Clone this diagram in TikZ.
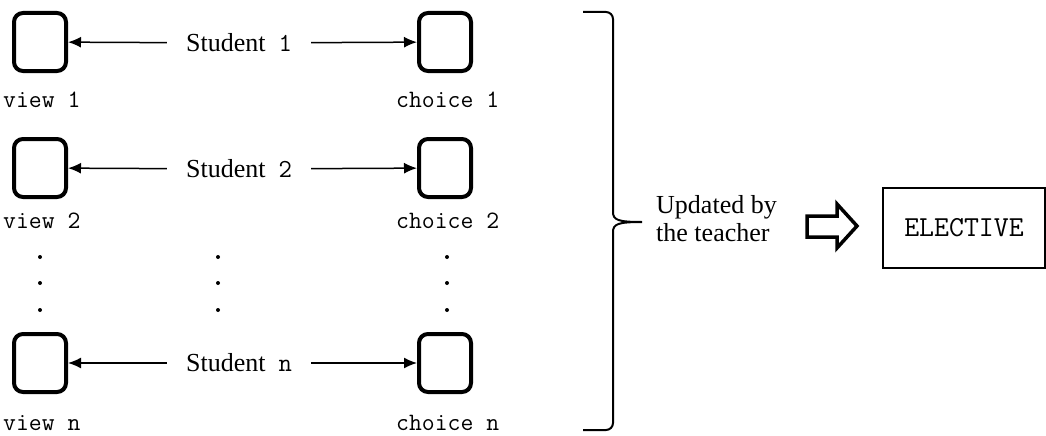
\documentclass[tikz,border=0pt]{standalone}
\usepackage{fontspec}
\setmainfont{Liberation Serif}
\usetikzlibrary{arrows.meta}
\tikzset{
  page/.style={x=1pt,y=-1pt},
  slot/.style={draw,rounded corners=9pt,line width=4pt,minimum width=52pt,minimum height=58pt,inner sep=0pt},
  student/.style={font=\fontsize{26}{28}\selectfont,inner xsep=19pt,inner ysep=0pt},
  tag/.style={font=\fontsize{25}{27}\ttfamily,anchor=west,inner sep=0pt},
  link/.style={line width=1.5pt,-{Latex[length=13pt,width=11pt]}},
  dot/.style={circle,fill,inner sep=0pt,minimum size=4pt}
}
\begin{document}
\begin{tikzpicture}[page]
      \useasboundingbox (0,0) rectangle (1046,436);
      \draw
        (40,42) node[slot] (v1){}
        (445,42) node[slot] (c1){}
        (40,168) node[slot] (v2){}
        (445,168) node[slot] (c2){}
        (40,363) node[slot] (vn){}
        (445,363) node[slot] (cn){};
      \draw
        (239,43) node[student] (s1){Student~~\texttt{1}}
        (239,169) node[student] (s2){Student~~\texttt{2}}
        (239,363) node[student] (sn){Student~~\texttt{n}};
      \draw
        (3,100) node[tag] (v1l){view 1}
        (396,100) node[tag] (c1l){choice 1}
        (3,221) node[tag] (v2l){view 2}
        (396,221) node[tag] (c2l){choice 2}
        (3,423) node[tag] (vnl){view n}
        (396,423) node[tag] (cnl){choice n};
      \begin{scope}[link]
        \draw (s1) to (v1);
        \draw (s1) to (c1);
        \draw (s2) to (v2);
        \draw (s2) to (c2);
        \draw (sn) to (vn);
        \draw (sn) to (cn);
      \end{scope}
      % dots between rows
      \foreach \x in {40,218,447}
        \foreach \y in {257,283,310}
          \node[dot] at (\x,\y) {};
      % brace
      \draw[line width=2pt]
        (583,12) -- (606,12) to[out=0,in=90] (613,19) -- (613,212)
        .. controls (613,220) and (618,222) .. (642,222)
        (583,430) -- (606,430) to[out=0,in=-90] (613,423) -- (613,232)
        .. controls (613,224) and (618,222) .. (642,222);
      \node[font=\fontsize{26}{28}\selectfont,align=left,anchor=west,inner sep=0pt] (upd) at (656,219)
        {Updated by\\the teacher};
      % hollow arrow
      \draw[line width=3.5pt,line join=miter]
        (807,216) -- (837,216) -- (837,204) -- (857,226) -- (837,248) -- (837,237) -- (807,237) -- cycle;
      \node[draw,line width=1.5pt,minimum width=162pt,minimum height=80pt,font=\fontsize{29}{31}\ttfamily] (elec) at (964,228) {ELECTIVE};
    \end{tikzpicture}
\end{document}
